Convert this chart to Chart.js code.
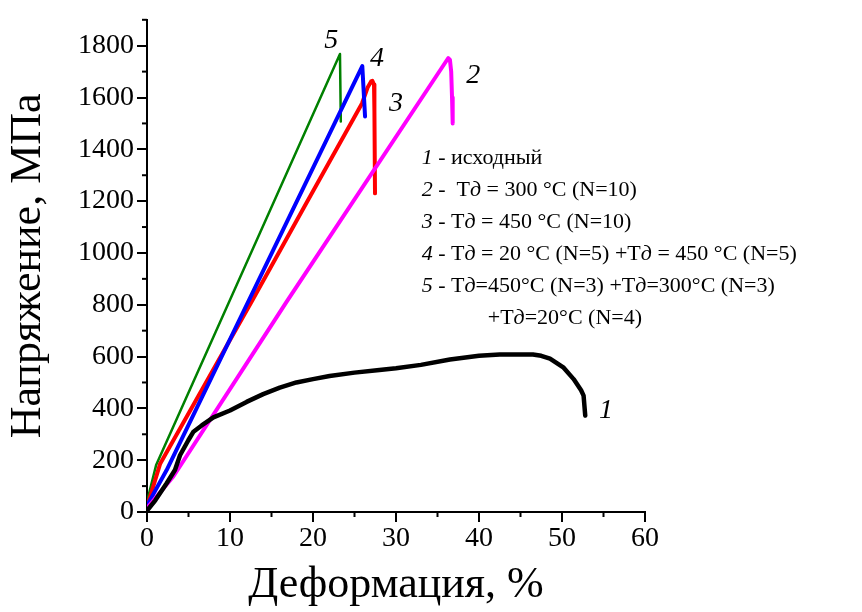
<!DOCTYPE html>
<html>
<head>
<meta charset="utf-8">
<script src="https://cdn.jsdelivr.net/npm/chart.js@4"></script>
<style>
  body { margin: 0; background: #fff; }
  #wrap { width: 862px; height: 612px; }
</style>
</head>
<body>
<div id="wrap"><canvas id="chart" width="862" height="612"></canvas></div>
<script>
// Curve 1 - исходный
const strain1 = [0, 1, 2.37, 3.37, 3.98, 4.98, 5.6, 6.59, 8, 10, 12, 14, 16, 18, 20, 22, 25, 28, 30, 33, 36.5, 40, 42.5, 46.5, 47.5, 48.55, 50.2, 51.4, 52.3, 52.6, 52.8];
const stress1 = [5, 45, 111, 162, 219, 277, 310, 334, 365, 392, 425, 455, 480, 500, 513, 525, 538, 548, 555, 568, 589, 603, 608, 608, 603, 592, 557, 513, 470, 449, 372];
// Curve 2 - 300 °C
const strain2 = [0, 3.17, 16.83, 36.0, 36.3, 36.5, 36.65, 36.75, 36.83];
const stress2 = [15, 137, 812, 1738, 1752, 1745, 1700, 1600, 1500];
// Curve 3 - 450 °C
const strain3 = [0, 1.57, 12.6, 19.24, 25.9, 26.6, 27.0, 27.15, 27.35, 27.4, 27.47];
const stress3 = [20, 185, 812, 1195, 1577, 1640, 1662, 1664, 1650, 1550, 1230];
// Curve 4 - 20 °C + 450 °C
const strain4 = [0, 2.37, 12.2, 25.94, 26.27];
const stress4 = [25, 162, 812, 1721, 1527];
// Curve 5 - 450 + 300 + 20 °C
const strain5 = [0, 1.1, 23.25, 23.35];
const stress5 = [40, 181, 1768, 1507];

const xTicks = [0, 10, 20, 30, 40, 50, 60];
const xMinor = [5, 15, 25, 35, 45, 55];
const yTicks = [0, 200, 400, 600, 800, 1000, 1200, 1400, 1600, 1800];
const yMinor = [100, 300, 500, 700, 900, 1100, 1300, 1500, 1700, 1900];

const curveNames = ['1', '2', '3', '4', '5'];
const legendLines = [
    [['1', true], [' - исходный', false]],
    [['2', true], [' -  Т', false], ['д', true], [' = 300 °C (N=10)', false]],
    [['3', true], [' - Т', false], ['д', true], [' = 450 °C (N=10)', false]],
    [['4', true], [' - Т', false], ['д', true], [' = 20 °C (N=5) +Т', false], ['д', true], [' = 450 °C (N=5)', false]],
    [['5', true], [' - Т', false], ['д', true], ['=450°C (N=3) +Т', false], ['д', true], ['=300°C (N=3)', false]],
    [['+Т', false], ['д', true], ['=20°C (N=4)', false]]
];

const FONT = "'Liberation Serif', 'Times New Roman', serif";

function toPoints(xs, ys) {
    return xs.map((x, i) => ({ x: x, y: ys[i] }));
}

// where the curve numbers and the legend block sit (data coordinates)
const nameAnchors = [[55.3, 392], [39.3, 1684], [30.0, 1577], [27.7, 1749], [22.2, 1818]];
const legendAnchor = [33.1, 1367];

const extrasPlugin = {
    id: 'extras',
    afterDraw(chart) {
        const ctx = chart.ctx;
        const xs = chart.scales.x, ys = chart.scales.y;
        ctx.save();
        // minor ticks
        ctx.strokeStyle = '#000';
        ctx.lineWidth = 2;
        xMinor.forEach(v => {
            const px = xs.getPixelForValue(v);
            ctx.beginPath();
            ctx.moveTo(px, xs.top);
            ctx.lineTo(px, xs.top + 5);
            ctx.stroke();
        });
        yMinor.forEach(v => {
            const py = ys.getPixelForValue(v);
            ctx.beginPath();
            ctx.moveTo(ys.right, py);
            ctx.lineTo(ys.right - 5, py);
            ctx.stroke();
        });

        // curve numbers
        ctx.fillStyle = '#000';
        ctx.textAlign = 'center';
        ctx.textBaseline = 'middle';
        ctx.font = 'italic 28px ' + FONT;
        curveNames.forEach((n, i) => {
            ctx.fillText(n, xs.getPixelForValue(nameAnchors[i][0]), ys.getPixelForValue(nameAnchors[i][1]));
        });

        // legend text
        ctx.textAlign = 'left';
        const lx = xs.getPixelForValue(legendAnchor[0]);
        const ly = ys.getPixelForValue(legendAnchor[1]);
        legendLines.forEach((segs, i) => {
            let x = lx + (i === 5 ? 66 : 0);
            const y = ly + i * 32;
            segs.forEach(([t, it]) => {
                ctx.font = (it ? 'italic ' : '') + '22px ' + FONT;
                ctx.fillText(t, x, y);
                x += ctx.measureText(t).width;
            });
        });
        ctx.restore();
    }
};

const ctx = document.getElementById('chart').getContext('2d');
new Chart(ctx, {
    type: 'scatter',
    data: {
        datasets: [
            { data: toPoints(strain1, stress1), borderColor: '#000000', borderWidth: 4.5, order: 0 },
            { data: toPoints(strain2, stress2), borderColor: '#FF00FF', borderWidth: 4, order: 1 },
            { data: toPoints(strain4, stress4), borderColor: '#0000FF', borderWidth: 4, order: 2 },
            { data: toPoints(strain3, stress3), borderColor: '#FF0000', borderWidth: 4, order: 3 },
            { data: toPoints(strain5, stress5), borderColor: '#008000', borderWidth: 2.5, order: 4 }
        ].map(d => Object.assign(d, { showLine: true, pointRadius: 0, tension: 0, fill: false, borderJoinStyle: 'round', borderCapStyle: 'round' }))
    },
    options: {
        responsive: false,
        animation: false,
        layout: { padding: { top: 15, right: 217, left: 0, bottom: 0 } },
        plugins: { legend: { display: false }, tooltip: { enabled: false } },
        scales: {
            x: {
                type: 'linear',
                min: 0, max: 60,
                afterBuildTicks: s => { s.ticks = xTicks.map(v => ({ value: v })); },
                afterFit: s => { s.height = 100; },
                ticks: { color: '#000', font: { family: FONT, size: 28 }, padding: 0, maxRotation: 0, callback: v => String(v) },
                grid: { drawOnChartArea: false, color: '#000', tickLength: 10, lineWidth: 2 },
                border: { color: '#000', width: 2 },
                title: { display: true, text: 'Деформация, %', color: '#000', font: { family: FONT, size: 44 }, padding: { top: 0, bottom: 0 } }
            },
            y: {
                type: 'linear',
                min: 0, max: 1900,
                afterBuildTicks: s => { s.ticks = yTicks.map(v => ({ value: v })); },
                afterFit: s => { s.width = 147; },
                ticks: { color: '#000', font: { family: FONT, size: 28 }, padding: 3, callback: v => String(v) },
                grid: { drawOnChartArea: false, color: '#000', tickLength: 10, lineWidth: 2 },
                border: { color: '#000', width: 2 },
                title: { display: true, text: 'Напряжение, МПа', color: '#000', font: { family: FONT, size: 44 }, padding: { top: 2, bottom: 0 } }
            }
        }
    },
    plugins: [extrasPlugin]
});
</script>
</body>
</html>
